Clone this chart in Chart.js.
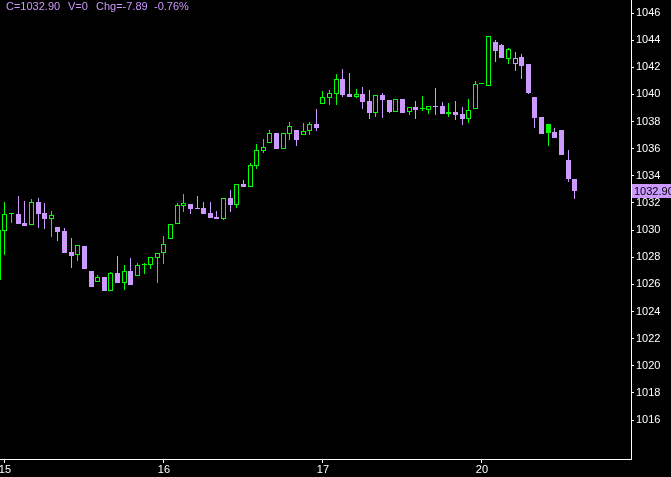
<!DOCTYPE html>
<html>
<head>
<meta charset="utf-8">
<script src="https://cdn.jsdelivr.net/npm/chart.js@4.4.0/dist/chart.umd.min.js"></script>
<style>
  html, body { margin: 0; padding: 0; background: #000; overflow: hidden; }
  #wrap { width: 671px; height: 477px; position: relative; }
</style>
</head>
<body>
<div id="wrap"><canvas id="chart"></canvas></div>
<script>
// day labels on the time axis and the bar index where each day starts
var dayLabels = ["15", "16", "17", "20"];
var dayStarts = [0, 24, 48, 72];
var priceTicks = [1016, 1018, 1020, 1022, 1024, 1026, 1028, 1030, 1032, 1034, 1036, 1038, 1040, 1042, 1044, 1046];

// first bar is the last one of the previous session, half cut off
var firstBar = -1;

var opens = [1026.32,
  1029.96, 1031.19, 1031.19, 1030.50, 1030.40, 1032.05, 1031.26, 1030.84, 1030.23, 1029.94, 1028.39, 1028.14,
  1028.83, 1026.99, 1026.16, 1026.55, 1025.54, 1026.84, 1026.13, 1027.01, 1026.64, 1027.44, 1027.45, 1027.97,
  1028.29, 1029.37, 1030.43, 1031.80, 1031.92, 1031.65, 1031.63, 1031.24, 1030.99, 1030.82, 1032.37, 1031.85,
  1033.40, 1033.18, 1034.75, 1035.85, 1036.40, 1037.16, 1035.98, 1037.11, 1037.38, 1036.99, 1037.30, 1037.82,
  1039.32, 1039.76, 1040.05, 1041.14, 1040.05, 1039.83, 1040.03, 1039.52, 1038.65, 1039.96, 1039.59, 1038.73,
  1039.66, 1038.68, 1039.07, 1038.89, 1038.87, 1039.17, 1039.15, 1038.56, 1038.70, 1038.56, 1038.19, 1038.95,
  1040.79, 1040.62, 1043.86, 1043.64, 1042.63, 1042.26, 1042.76, 1042.24, 1039.81, 1038.34, 1037.82, 1037.23,
  1037.38, 1035.17, 1033.77];
var highs = [1030.01,
  1032.05, 1031.20, 1032.51, 1032.15, 1032.29, 1032.37, 1032.00, 1031.41, 1030.23, 1030.16, 1029.42, 1028.88,
  1028.83, 1026.99, 1026.69, 1026.55, 1026.91, 1028.09, 1027.43, 1027.95, 1027.58, 1027.58, 1028.00, 1028.31,
  1029.57, 1030.45, 1031.98, 1032.66, 1031.92, 1032.49, 1032.07, 1032.07, 1031.41, 1032.37, 1032.96, 1033.40,
  1033.69, 1034.95, 1036.35, 1036.71, 1037.38, 1037.16, 1037.16, 1037.97, 1037.38, 1037.89, 1037.97, 1038.93,
  1040.25, 1040.33, 1041.50, 1041.87, 1041.58, 1040.40, 1040.55, 1040.33, 1039.96, 1040.10, 1039.59, 1039.66,
  1039.66, 1039.05, 1039.52, 1039.88, 1039.15, 1040.47, 1039.42, 1039.37, 1039.52, 1039.07, 1039.66, 1040.99,
  1040.79, 1044.28, 1044.01, 1043.72, 1043.42, 1043.13, 1042.98, 1042.24, 1039.81, 1038.34, 1037.82, 1037.53,
  1037.38, 1035.90, 1033.77];
var lows = [1026.32,
  1028.17, 1030.50, 1030.45, 1030.30, 1030.40, 1030.18, 1030.08, 1029.49, 1029.20, 1028.34, 1027.23, 1027.70,
  1027.16, 1025.83, 1026.16, 1025.54, 1025.54, 1026.10, 1025.59, 1025.96, 1026.64, 1026.77, 1027.16, 1026.13,
  1027.50, 1029.37, 1030.43, 1031.36, 1031.21, 1031.56, 1031.19, 1030.89, 1030.82, 1030.75, 1031.34, 1031.65,
  1033.18, 1033.18, 1034.53, 1035.71, 1036.40, 1035.98, 1035.98, 1036.64, 1036.20, 1036.99, 1037.01, 1037.30,
  1039.32, 1039.24, 1039.24, 1039.83, 1039.83, 1039.76, 1038.95, 1038.21, 1038.36, 1038.28, 1038.63, 1038.73,
  1038.65, 1038.48, 1038.19, 1038.80, 1038.54, 1038.48, 1038.58, 1038.31, 1038.14, 1037.75, 1037.92, 1038.95,
  1040.79, 1040.62, 1042.39, 1042.71, 1042.26, 1041.75, 1041.16, 1040.03, 1037.53, 1037.08, 1036.20, 1036.79,
  1035.54, 1033.55, 1032.29];
var closes = [1030.01,
  1031.19, 1031.20, 1030.45, 1030.30, 1032.05, 1031.21, 1030.84, 1031.11, 1029.88, 1028.34, 1028.11, 1028.88,
  1027.16, 1025.83, 1026.52, 1025.54, 1026.82, 1026.10, 1026.99, 1025.96, 1027.41, 1027.46, 1028.00, 1028.31,
  1028.98, 1030.45, 1031.83, 1032.00, 1031.58, 1031.56, 1031.19, 1030.89, 1030.82, 1032.37, 1031.85, 1033.40,
  1033.18, 1034.80, 1035.90, 1036.13, 1037.16, 1035.98, 1037.16, 1037.67, 1036.64, 1037.30, 1037.82, 1037.53,
  1039.79, 1040.10, 1041.14, 1039.98, 1039.83, 1040.03, 1039.46, 1038.65, 1039.96, 1039.59, 1038.73, 1039.66,
  1038.65, 1039.05, 1038.85, 1038.91, 1039.15, 1039.07, 1038.58, 1038.68, 1038.48, 1038.19, 1038.85, 1040.79,
  1040.79, 1044.28, 1043.20, 1042.71, 1043.35, 1042.68, 1042.09, 1040.10, 1038.26, 1037.08, 1037.16, 1036.79,
  1035.54, 1033.77, 1032.90];
var volume = 0;

var UP = "#00ff00";
var DOWN = "#cc99ff";
var FONT = "Liberation Sans";

// colour: against previous close, fill: against own open
var wickData = [], bodyData = [], barColors = [], barFills = [];
for (var k = 0; k < closes.length; k++) {
  var prev = k > 0 ? closes[k - 1] : opens[k];
  var col = closes[k] >= prev ? UP : DOWN;
  barColors.push(col);
  barFills.push(closes[k] >= opens[k] ? "#000000" : col);
  wickData.push({ x: firstBar + k, y: [lows[k], highs[k]] });
  bodyData.push({ x: firstBar + k, y: [opens[k], closes[k]] });
}

var lastClose = closes[closes.length - 1];
var prevDayClose = closes[dayStarts[3] - firstBar - 1];
var chg = lastClose - prevDayClose;
var chgPct = chg / prevDayClose * 100;

// snap bars to whole pixels so 1px wicks stay sharp
var snapPlugin = {
  id: "snap",
  afterDatasetsUpdate: function (chart) {
    chart.data.datasets.forEach(function (ds, i) {
      chart.getDatasetMeta(i).data.forEach(function (el) {
        el.x = Math.round(el.x - 0.5) + 0.5;
        el.y = Math.round(el.y);
        el.base = Math.round(el.base);
      });
    });
  }
};

var textPlugin = {
  id: "texts",
  afterDraw: function (chart) {
    var ctx = chart.ctx;
    var ys = chart.scales.y;
    ctx.save();
    ctx.font = "11px '" + FONT + "'";
    ctx.textBaseline = "middle";
    ctx.fillStyle = DOWN;
    ctx.textAlign = "left";
    ctx.fillText("C=" + lastClose.toFixed(2), 6, 7);
    ctx.fillText("V=" + volume, 68, 7);
    ctx.fillText("Chg=" + chg.toFixed(2), 96, 7);
    ctx.fillText(chgPct.toFixed(2) + "%", 154, 7);

    var py = Math.round(ys.getPixelForValue(lastClose));
    ctx.fillStyle = DOWN;
    ctx.fillRect(ys.left + 1, py - 7, chart.width - ys.left, 14);
    ctx.fillStyle = "#000";
    ctx.fillText(lastClose.toFixed(2), ys.left + 3, py + 0.5);
    ctx.restore();
  }
};

function noPad(s) {
  s.paddingTop = 0;
  s.paddingBottom = 0;
  s.paddingLeft = 0;
  s.paddingRight = 0;
}

new Chart(document.getElementById("chart"), {
  type: "bar",
  data: {
    datasets: [
      {
        label: "wick",
        data: wickData,
        backgroundColor: barColors,
        borderWidth: 0,
        barThickness: 1,
        grouped: false,
        inflateAmount: 0,
        order: 2
      },
      {
        label: "body",
        data: bodyData,
        backgroundColor: barFills,
        borderColor: barColors,
        borderWidth: 1,
        borderSkipped: false,
        barThickness: 5,
        minBarLength: 1,
        grouped: false,
        inflateAmount: 0,
        order: 1
      }
    ]
  },
  options: {
    responsive: true,
    maintainAspectRatio: false,
    devicePixelRatio: 1,
    animation: false,
    layout: { padding: 0 },
    plugins: {
      legend: { display: false },
      tooltip: { enabled: false },
      title: { display: false }
    },
    scales: {
      x: {
        type: "linear",
        min: -0.75,
        max: 94.5,
        offset: false,
        grid: { display: true, drawOnChartArea: false, drawTicks: true, tickLength: 4, color: "#ffffff", offset: false },
        border: { display: true, color: "#ffffff", width: 1 },
        ticks: {
          color: "#ffffff",
          font: { family: FONT, size: 11 },
          padding: 0,
          maxRotation: 0,
          autoSkip: false,
          callback: function (v) {
            var i = dayStarts.indexOf(v);
            return i >= 0 ? dayLabels[i] : "";
          }
        },
        afterBuildTicks: function (s) {
          s.ticks = dayStarts.map(function (v) { return { value: v }; });
        },
        afterFit: function (s) { s.height = 18; noPad(s); }
      },
      y: {
        type: "linear",
        position: "right",
        min: 1013.13,
        max: 1046.96,
        beginAtZero: false,
        grid: { display: true, drawOnChartArea: false, drawTicks: true, tickLength: 3, color: "#ffffff" },
        border: { display: true, color: "#ffffff", width: 1 },
        ticks: {
          color: "#ffffff",
          font: { family: FONT, size: 11 },
          padding: 2,
          autoSkip: false,
          callback: function (v) { return String(v); }
        },
        afterBuildTicks: function (s) {
          s.ticks = priceTicks.map(function (v) { return { value: v }; });
        },
        afterFit: function (s) { s.width = 40; noPad(s); }
      }
    }
  },
  plugins: [snapPlugin, textPlugin]
});
</script>
</body>
</html>
